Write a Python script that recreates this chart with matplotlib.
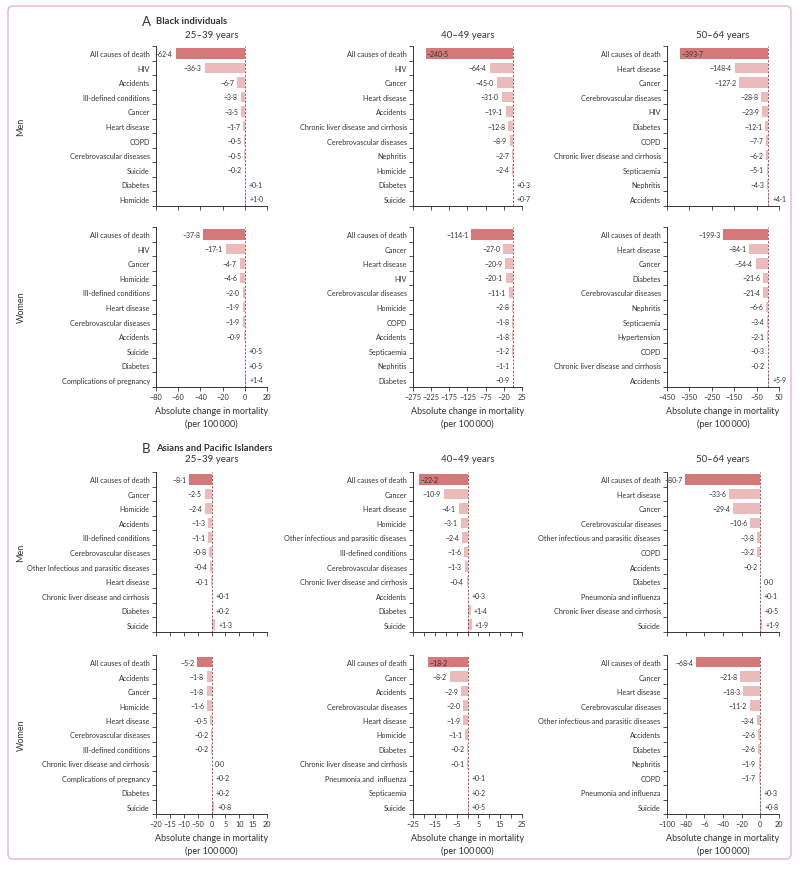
import matplotlib
matplotlib.use("Agg")
import matplotlib.pyplot as plt
from matplotlib.patches import FancyBboxPatch

plt.rcParams['font.family'] = ['Lato', 'DejaVu Sans']

# ---- A: Black individuals ----
a_men_25_causes = ["All causes of death", "HIV", "Accidents", "Ill-defined conditions", "Cancer",
                   "Heart disease", "COPD", "Cerebrovascular diseases", "Suicide", "Diabetes", "Homicide"]
a_men_25_values = [-62.4, -36.3, -6.7, -3.8, -3.5, -1.7, -0.5, -0.5, -0.2, 0.1, 1.0]

a_men_40_causes = ["All causes of death", "HIV", "Cancer", "Heart disease", "Accidents",
                   "Chronic liver disease and cirrhosis", "Cerebrovascular diseases", "Nephritis",
                   "Homicide", "Diabetes", "Suicide"]
a_men_40_values = [-240.5, -64.4, -45.0, -31.0, -19.1, -12.8, -8.9, -2.7, -2.4, 0.3, 0.7]

a_men_50_causes = ["All causes of death", "Heart disease", "Cancer", "Cerebrovascular diseases", "HIV",
                   "Diabetes", "COPD", "Chronic liver disease and cirrhosis", "Septicaemia", "Nephritis",
                   "Accidents"]
a_men_50_values = [-393.7, -148.4, -127.2, -28.8, -23.9, -12.1, -7.7, -6.2, -5.1, -4.3, 4.1]

a_women_25_causes = ["All causes of death", "HIV", "Cancer", "Homicide", "Ill-defined conditions",
                     "Heart disease", "Cerebrovascular diseases", "Accidents", "Suicide", "Diabetes",
                     "Complications of pregnancy"]
a_women_25_values = [-37.8, -17.1, -4.7, -4.6, -2.0, -1.9, -1.9, -0.9, 0.5, 0.5, 1.4]

a_women_40_causes = ["All causes of death", "Cancer", "Heart disease", "HIV", "Cerebrovascular diseases",
                     "Homicide", "COPD", "Accidents", "Septicaemia", "Nephritis", "Diabetes"]
a_women_40_values = [-114.1, -27.0, -20.9, -20.1, -11.1, -2.8, -1.8, -1.8, -1.2, -1.1, -0.9]

a_women_50_causes = ["All causes of death", "Heart disease", "Cancer", "Diabetes", "Cerebrovascular diseases",
                     "Nephritis", "Septicaemia", "Hypertension", "COPD",
                     "Chronic liver disease and cirrhosis", "Accidents"]
a_women_50_values = [-199.3, -84.1, -54.4, -21.6, -21.4, -6.6, -3.4, -2.1, -0.3, -0.2, 5.9]

# ---- B: Asians and Pacific Islanders ----
b_men_25_causes = ["All causes of death", "Cancer", "Homicide", "Accidents", "Ill-defined conditions",
                   "Cerebrovascular diseases", "Other Infectious and parasitic diseases", "Heart disease",
                   "Chronic liver disease and cirrhosis", "Diabetes", "Suicide"]
b_men_25_values = [-8.1, -2.5, -2.4, -1.3, -1.1, -0.8, -0.4, -0.1, 0.1, 0.2, 1.3]

b_men_40_causes = ["All causes of death", "Cancer", "Heart disease", "Homicide",
                   "Other infectious and parasitic diseases", "Ill-defined conditions",
                   "Cerebrovascular diseases", "Chronic liver disease and cirrhosis", "Accidents",
                   "Diabetes", "Suicide"]
b_men_40_values = [-22.2, -10.9, -4.1, -3.1, -2.4, -1.6, -1.3, -0.4, 0.3, 1.4, 1.9]

b_men_50_causes = ["All causes of death", "Heart disease", "Cancer", "Cerebrovascular diseases",
                   "Other infectious and parasitic diseases", "COPD", "Accidents", "Diabetes",
                   "Pneumonia and influenza", "Chronic liver disease and cirrhosis", "Suicide"]
b_men_50_values = [-80.7, -33.6, -29.4, -10.6, -3.8, -3.2, -0.2, 0.0, 0.1, 0.5, 1.9]

b_women_25_causes = ["All causes of death", "Accidents", "Cancer", "Homicide", "Heart disease",
                     "Cerebrovascular diseases", "Ill-defined conditions",
                     "Chronic liver disease and cirrhosis", "Complications of pregnancy", "Diabetes",
                     "Suicide"]
b_women_25_values = [-5.2, -1.8, -1.8, -1.6, -0.5, -0.2, -0.2, 0.0, 0.2, 0.2, 0.8]

b_women_40_causes = ["All causes of death", "Cancer", "Accidents", "Cerebrovascular diseases",
                     "Heart disease", "Homicide", "Diabetes", "Chronic liver disease and cirrhosis",
                     "Pneumonia and  influenza", "Septicaemia", "Suicide"]
b_women_40_values = [-18.2, -8.2, -2.9, -2.0, -1.9, -1.1, -0.2, -0.1, 0.1, 0.2, 0.5]

b_women_50_causes = ["All causes of death", "Cancer", "Heart disease", "Cerebrovascular diseases",
                     "Other infectious and parasitic diseases", "Accidents", "Diabetes", "Nephritis",
                     "COPD", "Pneumonia and influenza", "Suicide"]
b_women_50_values = [-68.4, -21.8, -18.3, -11.2, -3.4, -2.6, -2.6, -1.9, -1.7, 0.3, 0.8]

age_groups = ["25–39 years", "40–49 years", "50–64 years"]

# axis scales per column (A, B)
a_xlims = [(-80, 20), (-275, 25), (-450, 50)]
a_ticks = [[-80, -60, -40, -20, 0, 20],
           [-275, -225, -175, -125, -75, -25, 25],
           [-450, -350, -250, -150, -50, 50]]
a_ticklabels = [["−80", "−60", "−40", "−20", "0", "20"],
                ["−275", "−225", "−175", "−125", "−75", "−20", "25"],
                ["−450", "−350", "−250", "−150", "−50", "50"]]
b_xlims = [(-20, 20), (-25, 25), (-100, 20)]
b_ticks = [[-20, -15, -10, -5, 0, 5, 10, 15, 20],
           [-25, -20, -15, -10, -5, 0, 5, 10, 15, 20, 25],
           [-100, -80, -60, -40, -20, 0, 20]]
b_ticklabels = [["−20", "−15", "−10", "−50", "0", "5", "10", "15", "20"],
                ["−25", "", "−15", "", "−5", "", "5", "", "15", "", "25"],
                ["−100", "−80", "−6", "−40", "−20", "0", "20"]]

DARK = '#d4787a'
LIGHT = '#ebbaba'
ZERO = '#a84c55'
INK = '#333333'
W, H = 800, 870


def fmt(v):
    if v == 0:
        return '0·0'
    s = f'{abs(v):.1f}'.replace('.', '·')
    return ('+' if v > 0 else '−') + s


def panel(ax, causes, values, xlim, ticks, ticklabels, show_ticklabels):
    n = len(causes)
    colors = [DARK] + [LIGHT] * (n - 1)
    ax.barh(range(n), values, height=0.72, color=colors, zorder=2)
    ax.axvline(0, color=ZERO, lw=0.7, ls=(0, (2.2, 1.6)), zorder=3)
    ax.set_xlim(*xlim)
    ax.set_ylim(n - 0.5, -0.5)
    span = xlim[1] - xlim[0]
    for i, v in enumerate(values):
        if v < 0 and (v - xlim[0]) / span < 0.14:
            ax.annotate(fmt(v), (v, i), xytext=(1, 0), textcoords='offset points',
                        ha='left', va='center', fontsize=5, color=INK, zorder=4)
        elif v < 0:
            ax.annotate(fmt(v), (v, i), xytext=(-2, 0), textcoords='offset points',
                        ha='right', va='center', fontsize=5, color=INK)
        else:
            ax.annotate(fmt(v), (max(v, 0), i), xytext=(2.5, 0), textcoords='offset points',
                        ha='left', va='center', fontsize=5, color=INK)
    for side in ('top', 'right'):
        ax.spines[side].set_visible(False)
    for side in ('left', 'bottom'):
        ax.spines[side].set_color(INK)
        ax.spines[side].set_linewidth(0.7)
    ax.set_yticks([i - 0.5 for i in range(n + 1)])
    ax.set_yticklabels([])
    ax.set_yticks(range(n), minor=True)
    ax.set_yticklabels(causes, minor=True, fontsize=5.2, color=INK)
    ax.tick_params(axis='y', which='major', length=3, width=0.6, color=INK)
    ax.tick_params(axis='y', which='minor', length=0, pad=4.5)
    ax.set_xticks(ticks)
    ax.tick_params(axis='x', length=3, width=0.6, color=INK, pad=1.5, labelsize=5.3, labelcolor=INK)
    if show_ticklabels:
        ax.set_xticklabels(ticklabels)
        ax.set_xlabel("Absolute change in mortality\n(per 100\u2009000)", fontsize=6.5,
                      color=INK, linespacing=1.5, labelpad=4)
    else:
        ax.set_xticklabels([])


fig = plt.figure(figsize=(W / 100, H / 100), dpi=100)
fig.patches.append(FancyBboxPatch((8 / W, 1 - 860 / H), 783 / W, 853 / H,
                                  boxstyle='round,pad=0,rounding_size=0.006',
                                  transform=fig.transFigure, fill=False,
                                  edgecolor='#eab0c6', lw=1.0))

cols = [(156, 267), (413, 522), (667, 779)]
rows = {'a_men': (47, 207), 'a_women': (228, 388), 'b_men': (473, 633), 'b_women': (656, 815)}


def add_ax(col, row):
    l, r = cols[col]
    t, b = rows[row]
    return fig.add_axes([l / W, 1 - b / H, (r - l) / W, (b - t) / H])


a_men = [(a_men_25_causes, a_men_25_values), (a_men_40_causes, a_men_40_values),
         (a_men_50_causes, a_men_50_values)]
a_women = [(a_women_25_causes, a_women_25_values), (a_women_40_causes, a_women_40_values),
           (a_women_50_causes, a_women_50_values)]
b_men = [(b_men_25_causes, b_men_25_values), (b_men_40_causes, b_men_40_values),
         (b_men_50_causes, b_men_50_values)]
b_women = [(b_women_25_causes, b_women_25_values), (b_women_40_causes, b_women_40_values),
           (b_women_50_causes, b_women_50_values)]

for c in range(3):
    ax = add_ax(c, 'a_men')
    panel(ax, *a_men[c], a_xlims[c], a_ticks[c], a_ticklabels[c], False)
    fig.text(sum(cols[c]) / 2 / W, 1 - 35 / H, age_groups[c], ha='center', va='center',
             fontsize=7, color=INK)
    ax = add_ax(c, 'a_women')
    panel(ax, *a_women[c], a_xlims[c], a_ticks[c], a_ticklabels[c], True)
    ax = add_ax(c, 'b_men')
    panel(ax, *b_men[c], b_xlims[c], b_ticks[c], b_ticklabels[c], False)
    fig.text(sum(cols[c]) / 2 / W, 1 - 460 / H, age_groups[c], ha='center', va='center',
             fontsize=7, color=INK)
    ax = add_ax(c, 'b_women')
    panel(ax, *b_women[c], b_xlims[c], b_ticks[c], b_ticklabels[c], True)

fig.text(142 / W, 1 - 22 / H, "A", fontsize=9.5, ha='left', va='center', color=INK)
fig.text(156 / W, 1 - 22 / H, "Black individuals", fontsize=6.8, fontweight='bold',
         ha='left', va='center', color=INK)
fig.text(142 / W, 1 - 449 / H, "B", fontsize=9.5, ha='left', va='center', color=INK)
fig.text(156 / W, 1 - 449 / H, "Asians and Pacific Islanders", fontsize=6.8, fontweight='bold',
         ha='left', va='center', color=INK)

for label, yc in [("Men", 127), ("Women", 307), ("Men", 553), ("Women", 735)]:
    fig.text(21 / W, 1 - yc / H, label, rotation=90, ha='center', va='center',
             fontsize=6.5, color=INK)

fig.savefig("out.png", dpi=100)
